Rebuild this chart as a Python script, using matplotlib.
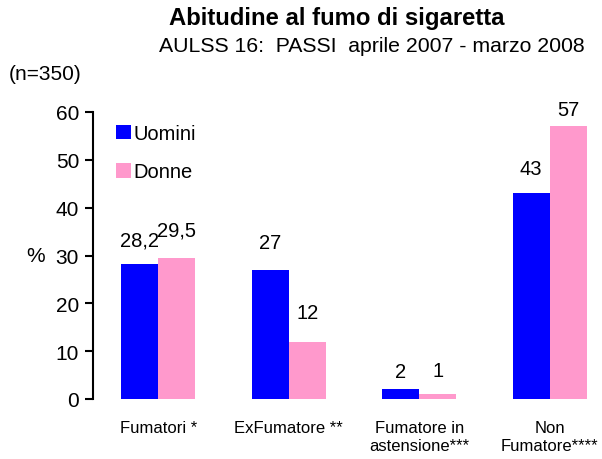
import matplotlib
matplotlib.use("Agg")
import matplotlib.pyplot as plt
import numpy as np

plt.rcParams['font.family'] = ['Liberation Sans', 'DejaVu Sans']

categories = ["Fumatori *", "ExFumatore **", "Fumatore in\nastensione***", "Non\nFumatore****"]
uomini = [28.2, 27, 2, 43]
donne = [29.5, 12, 1, 57]
uomini_labels = ["28,2", "27", "2", "43"]
donne_labels = ["29,5", "12", "1", "57"]
yticks = [0, 10, 20, 30, 40, 50, 60]

fig = plt.figure(figsize=(6.02, 4.60), dpi=100)
ax = fig.add_axes([93/602, 60/460, 522/602, 287/460])

x = np.arange(len(categories))
w = 0.285
ax.bar(x - w/2, uomini, width=w, color="#0000FF", label="Uomini")
ax.bar(x + w/2, donne, width=w, color="#FF99CC", label="Donne")

offs_u = [24, 27, 18, 25]
offs_d = [28, 29, 24, 17]
for xi, v, lab, o in zip(x - w/2, uomini, uomini_labels, offs_u):
    ax.annotate(lab, (xi, v), xytext=(0, o), textcoords="offset pixels",
                ha="center", va="center", fontsize=14.5)
for xi, v, lab, o in zip(x + w/2, donne, donne_labels, offs_d):
    ax.annotate(lab, (xi, v), xytext=(0, o), textcoords="offset pixels",
                ha="center", va="center", fontsize=14.5)

ax.set_xlim(-0.5, 3.5)
ax.set_ylim(0, 60)
ax.set_yticks(yticks)
ax.set_yticklabels([str(t) for t in yticks], fontsize=15)
ax.set_xticks(x)
ax.set_xticklabels(categories, fontsize=12, linespacing=1.3)
ax.tick_params(axis='x', length=0, pad=15)
ax.tick_params(axis='y', length=6, width=1.5, direction='out', pad=4)
for s in ["top", "right", "bottom"]:
    ax.spines[s].set_visible(False)
ax.spines["left"].set_linewidth(1.5)

ax.legend(loc="upper left", bbox_to_anchor=(0.02, 1.0), frameon=False,
          fontsize=14.5, handlelength=0.75, handleheight=0.75, handletextpad=0.15,
          labelspacing=0.95, borderaxespad=0.2)

fig.text(337/602, 1 - 19/460, "Abitudine al fumo di sigaretta", ha="center", va="center",
         fontsize=17.2, fontweight="bold")
fig.text(371.5/602, 1 - 46/460, "AULSS 16:  PASSI  aprile 2007 - marzo 2008", ha="center",
         va="center", fontsize=15.3)
fig.text(9/602, 1 - 74/460, "(n=350)", ha="left", va="center", fontsize=15)
fig.text(36/602, 1 - 257/460, "%", ha="center", va="center", fontsize=15)

fig.savefig("out.png", dpi=100)
